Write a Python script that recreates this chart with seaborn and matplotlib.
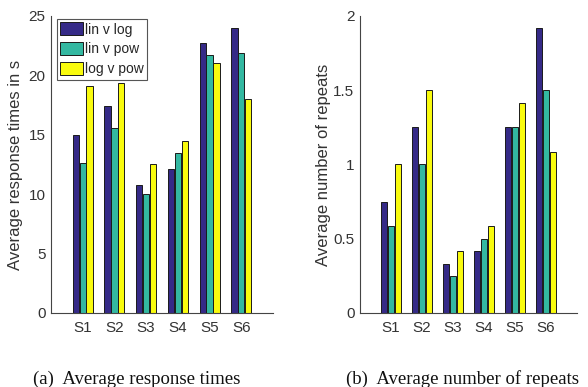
import matplotlib
matplotlib.use("Agg")
import matplotlib.pyplot as plt
import seaborn as sns
import pandas as pd
from matplotlib.ticker import FuncFormatter

scenarios = ["S1", "S2", "S3", "S4", "S5", "S6"]
pairs = ["lin v log", "lin v pow", "log v pow"]
resp_lin_log = [15.0, 17.4, 10.75, 12.1, 22.7, 23.95]
resp_lin_pow = [12.6, 15.6, 10.05, 13.5, 21.7, 21.85]
resp_log_pow = [19.1, 19.4, 12.5, 14.5, 21.05, 18.05]
rep_lin_log = [0.75, 1.25, 0.3333, 0.4167, 1.25, 1.9167]
rep_lin_pow = [0.5833, 1.0, 0.25, 0.5, 1.25, 1.5]
rep_log_pow = [1.0, 1.5, 0.4167, 0.5833, 1.4167, 1.0833]
colors = ["#352a87", "#33b8a1", "#f9fb0e"]
captions = ["(a)  Average response times", "(b)  Average number of repeats"]


def long_df(a, b, c):
    rows = []
    for name, vals in zip(pairs, [a, b, c]):
        for s, v in zip(scenarios, vals):
            rows.append({"scenario": s, "pair": name, "value": v})
    return pd.DataFrame(rows)


df_resp = long_df(resp_lin_log, resp_lin_pow, resp_log_pow)
df_rep = long_df(rep_lin_log, rep_lin_pow, rep_log_pow)

sns.set_style("white")
plt.rcParams["font.family"] = ["Liberation Sans", "DejaVu Sans"]

fig = plt.figure(figsize=(5.88, 3.87), dpi=100)
ax1 = fig.add_axes([51 / 588, 1 - 313 / 387, 222 / 588, 297 / 387])
ax2 = fig.add_axes([360 / 588, 1 - 313 / 387, 217 / 588, 297 / 387])

axis_col = "#444444"
text_col = "#333333"

for ax, df, ylab, ylim, yticks in [
    (ax1, df_resp, "Average response times in s", (0, 25), [0, 5, 10, 15, 20, 25]),
    (ax2, df_rep, "Average number of repeats", (0, 2), [0, 0.5, 1, 1.5, 2]),
]:
    sns.barplot(data=df, x="scenario", y="value", hue="pair", palette=colors,
                order=scenarios, hue_order=pairs, width=0.65, gap=0.1,
                saturation=1, edgecolor="#1a1a1a", linewidth=0.7,
                legend=(ax is ax1), ax=ax)
    ax.set_xlim(-1, 6)
    ax.set_ylim(*ylim)
    ax.set_yticks(yticks)
    ax.yaxis.set_major_formatter(FuncFormatter(lambda v, p: "%g" % v))
    ax.set_xlabel("")
    ax.set_ylabel(ylab, fontsize=12, color=text_col)
    for s in ["top", "right"]:
        ax.spines[s].set_visible(False)
    for s in ["left", "bottom"]:
        ax.spines[s].set_color(axis_col)
        ax.spines[s].set_linewidth(0.8)
    ax.tick_params(axis="y", direction="in", length=3, width=0.7,
                   color=axis_col, labelsize=11, labelcolor=text_col, pad=4)
    ax.tick_params(axis="x", direction="in", length=0, labelsize=11,
                   labelcolor=text_col, pad=6)

ax1.yaxis.set_label_coords(-0.125, 0.5)
ax2.yaxis.set_label_coords(-0.135, 0.5)

handles, labels = ax1.get_legend_handles_labels()
ax1.get_legend().remove()
leg = ax1.legend(handles, labels, loc="upper left", bbox_to_anchor=(0.027, 0.99),
                 borderaxespad=0, fontsize=10, frameon=True, fancybox=False,
                 framealpha=1, edgecolor="#555555", handlelength=1.6,
                 handleheight=1.05, handletextpad=0.15, labelspacing=0.4,
                 borderpad=0.25)
leg.get_frame().set_linewidth(0.8)

fig.text(137 / 588, 1 - 384 / 387, captions[0], ha="center", va="baseline",
         fontsize=13.5, family=["Liberation Serif", "DejaVu Serif"], color="#111111")
fig.text(463 / 588, 1 - 384 / 387, captions[1], ha="center", va="baseline",
         fontsize=13.5, family=["Liberation Serif", "DejaVu Serif"], color="#111111")

fig.savefig("out.png", dpi=100)
